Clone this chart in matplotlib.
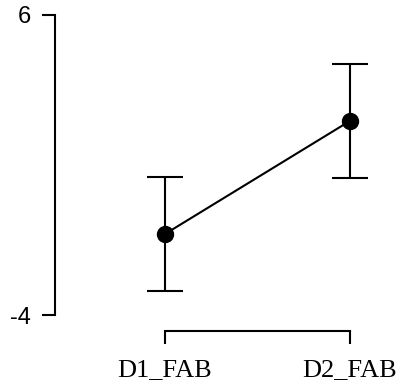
import numpy as np
import matplotlib
matplotlib.use("Agg")
import matplotlib.pyplot as plt

# condition means with error bar half-widths
labels = ["D1_FAB", "D2_FAB"]
means = [-1.3, 2.47]
errs = [1.9, 1.9]
yticks = [-4, 6]

W, H = 403, 389
fig = plt.figure(figsize=(W / 100, H / 100), dpi=100)
ax = fig.add_axes([55 / W, (H - 331) / H, (395 - 55) / W, (331 - 10) / H])

lw = 1.5
x = np.arange(1, len(labels) + 1)
ax.plot(x, means, color="black", lw=lw, zorder=2)
ax.errorbar(x, means, yerr=errs, fmt="none", ecolor="black", elinewidth=lw,
            capsize=13, capthick=lw, zorder=1)
ax.plot(x, means, "o", color="black", ms=11.5, zorder=3)

ax.set_xlim(1 - 110 / 185, 2 + 45 / 185)
ax.set_ylim(-4 - 16 / 30, 6 + 5 / 30)

for s in ["top", "right"]:
    ax.spines[s].set_visible(False)
ax.spines["left"].set_bounds(-4, 6)
ax.spines["bottom"].set_bounds(1, 2)
ax.spines["left"].set_linewidth(lw)
ax.spines["bottom"].set_linewidth(lw)

ax.set_yticks(yticks)
ax.set_yticklabels([str(v) for v in yticks], family="Liberation Sans", fontsize=17)
ax.set_xticks(x)
ax.set_xticklabels(labels, family="Liberation Serif", fontsize=19)
ax.tick_params(axis="y", length=9.5, width=lw, pad=8)
ax.tick_params(axis="x", length=9, width=lw, pad=11)

fig.savefig("out.png", dpi=100)
